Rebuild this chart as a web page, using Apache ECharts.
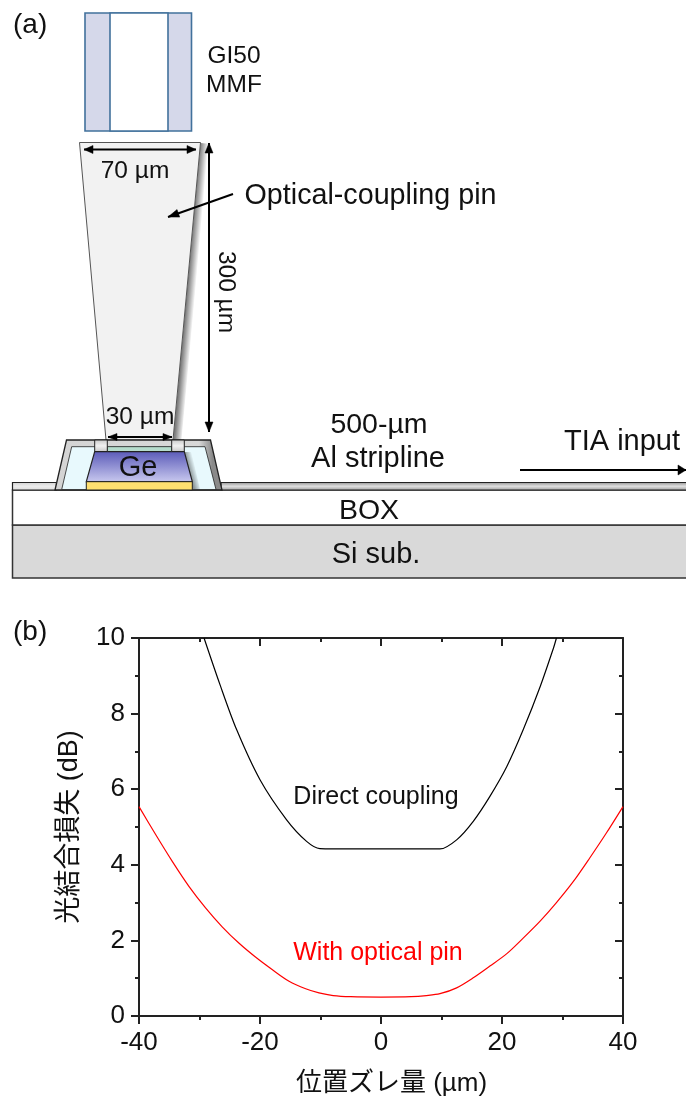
<!DOCTYPE html>
<html>
<head>
<meta charset="utf-8">
<style>html,body{margin:0;padding:0;background:#fff}#c{width:686px;height:1098px}</style>
<script src="https://cdn.jsdelivr.net/npm/echarts@6/dist/echarts.min.js"></script>
</head>
<body>
<div id="c"></div>
<script>
const directX = [-29.25,-26.6,-23.85,-20,-15.6,-12.3,-10.1,-5,0,5,9.75,12.5,15.25,18,20.8,23.5,26.3,28.5,29];
const directY = [10,8.76,7.57,6.25,5.19,4.62,4.43,4.42,4.42,4.42,4.42,4.66,5.15,5.81,6.6,7.57,8.71,9.73,10];
const pinX = [-40,-37.25,-34.5,-31.75,-29,-26.25,-23.5,-20.75,-18,-15.2,-12.45,-10.25,-7.9,-5,0,5,7.5,9.75,12.5,15.25,18,20.8,23.5,26.3,29,31.8,34.5,37.25,40];
const pinY = [5.54,4.8,4.09,3.43,2.86,2.36,1.93,1.56,1.23,0.92,0.72,0.61,0.54,0.51,0.5,0.51,0.54,0.59,0.745,1.01,1.32,1.65,2.06,2.51,3.0,3.56,4.18,4.84,5.54];
const xTicks = {min:-40,max:40,step:20};
const yTicks = {min:0,max:10,step:2};
const xName = '位置ズレ量 (µm)';
const yName = '光結合損失 (dB)';
const zip = (a,b) => a.map((v,i) => [v,b[i]]);

const FONT = '"Liberation Sans", Arial, sans-serif';
const txt = (text,x,y,size,opt={}) => ({type:'text',x,y,rotation:opt.rot||0,z:20,style:{text,x:0,y:0,fill:opt.fill||'#111',
  font:`${size}px ${FONT}`,align:opt.align||'center',verticalAlign:'middle'}});
const poly = (pts,fill,stroke,lw,extra={}) => ({type:'polygon',z:extra.z||5,shape:{points:pts},
  style:Object.assign({fill,stroke,lineWidth:lw},extra.style||{})});
const rect = (x,y,w,h,fill,stroke,lw,extra={}) => ({type:'rect',z:extra.z||5,shape:{x,y,width:w,height:h},
  style:Object.assign({fill,stroke,lineWidth:lw},extra.style||{})});
const seg = (x1,y1,x2,y2,stroke,lw,z=6) => ({type:'line',z,shape:{x1,y1,x2,y2},style:{stroke,lineWidth:lw}});
const head = (x,y,ang,l=10,w=4) => {
  const c=Math.cos(ang),s=Math.sin(ang);
  return poly([[x,y],[x-l*c-w*s,y-l*s+w*c],[x-l*c+w*s,y-l*s-w*c]],'#000','#000',0.5,{z:15});
};
const arrow = (x1,y1,x2,y2,both,l,w) => {
  const a=Math.atan2(y2-y1,x2-x1);
  const out=[seg(x1,y1,x2,y2,'#000',2,15),head(x2,y2,a,l,w)];
  if(both) out.push(head(x1,y1,a+Math.PI,l,w));
  return out;
};
const vgrad = (stops) => ({type:'linear',x:0,y:0,x2:0,y2:1,colorStops:stops.map((c,i)=>({offset:i/(stops.length-1),color:c}))});
const shade = (x,y,x2,y2,a) => ({type:'linear',global:true,x,y,x2,y2,colorStops:[{offset:0,color:`rgba(0,0,0,${a})`},{offset:1,color:'rgba(0,0,0,0)'}]});
const alTop = {type:'linear',x:0,y:0,x2:1,y2:0,colorStops:[{offset:0,color:'#d4d4d4'},{offset:0.86,color:'#d8d8d8'},{offset:0.94,color:'#8a8a8a'},{offset:1,color:'#8a8a8a'}]};

const diagram = [
  // substrate
  rect(12.5,525,690,53,'#d9d9d9','#333',1.5),
  rect(12.5,490,690,35,'#ffffff','#333',1.5),
  // stripline
  rect(12.5,482.5,44,7.5,vgrad(['#cfcfcf','#ececec','#dcdcdc']),'#222',1.2),
  rect(221,482.5,480,7.5,vgrad(['#8c8c8c','#e0e0e0','#9a9a9a']),'#222',1.2),
  // fibre
  rect(85,13,106.5,118,'#d5d8ea','#41719c',1.6),
  rect(110,13,58,118,'#ffffff','#41719c',1.6),
  // pin shadow and body
  poly([[200.5,143],[209,143.8],[181.5,440],[173,440]],shade(200.5,143,208.5,143.7,0.5),'none',0,{z:4}),
  poly([[79.5,142.5],[200.5,142.5],[173,440],[106,440]],'#f2f2f2','#555',1),
  // Al bump
  poly([[55,490],[66.5,440],[210.5,440],[222,490]],alTop,'#222',1.3),
  poly([[61.7,489.5],[71.7,446.7],[205,446.7],[216,489.5]],'#e8f9fd','#222',0.8),
  rect(107.3,446.7,64.4,5,'#b5dccc','#222',0.6),
  poly([[184.3,452],[191.5,452],[200,489],[192.3,489]],shade(184.3,452,191,450.2,0.4),'none',0),
  poly([[94.7,451.7],[184.3,451.7],[192.3,481.7],[86.3,481.7]],vgrad(['#5a5ab8','#c9c9ef']),'#222',1.2),
  rect(86.3,481.7,106,8.3,'#ffdf70','#222',1),
  rect(94.7,440,12.6,11.5,vgrad(['#c8c8c8','#f0f0f0','#c8c8c8']),'#222',1),
  rect(171.7,440,12.6,11.5,vgrad(['#c8c8c8','#f0f0f0','#c8c8c8']),'#222',1),
  // arrows
  ...arrow(84,149.5,196,149.5,true,9,4),
  ...arrow(209,143,209,432,true,10,4),
  ...arrow(233,194,168,217,false,11,4),
  ...arrow(108,437,172,437,true,9,3.5),
  ...arrow(520,470,686,470,false,8,5),
  // labels
  txt('(a)',13,25,28,{align:'left'}),
  txt('(b)',13,632,28,{align:'left'}),
  txt('GI50',234,56,24.5),
  txt('MMF',234,85,24.5),
  txt('70 µm',135,171,24.5),
  txt('Optical-coupling pin',370.5,196,28.7),
  txt('300 µm',226,292,24.5,{rot:-Math.PI/2}),
  txt('30 µm',140,417,24.5),
  txt('Ge',138,468,29),
  txt('500-µm',379,425,28.5),
  txt('Al stripline',378,459,29),
  txt('TIA input',622,442,29),
  txt('BOX',369,511,28.5),
  txt('Si sub.',376,555,29),
  txt('Direct coupling',376,797,25),
  txt('With optical pin',378,953,25,{fill:'#ff0000'})
];

const axLine = {show:true,onZero:false,lineStyle:{color:'#222',width:2}};
const tick = (inside) => ({show:true,inside,length:8,lineStyle:{color:'#222',width:2}});
const minor = (n) => ({show:true,splitNumber:n,length:4,lineStyle:{color:'#222',width:2}});
const base = (t,n,inside) => ({type:'value',min:t.min,max:t.max,interval:t.step,axisLine:axLine,axisTick:tick(inside),minorTick:minor(n),splitLine:{show:false}});
const labelStyle = {color:'#111',fontSize:26,fontFamily:FONT};
const nameFont = '"Liberation Sans","Noto Sans CJK JP",sans-serif';

const chart = echarts.init(document.getElementById('c'),null,{renderer:'canvas'});
chart.setOption({
  animation:false,
  backgroundColor:'#fff',
  grid:{left:139,top:638,width:484,height:378.5,containLabel:false},
  xAxis:[
    Object.assign(base(xTicks,2,false),{position:'bottom',name:xName,nameLocation:'middle',nameGap:55,
      nameTextStyle:{color:'#111',fontSize:26,fontFamily:nameFont,padding:[0,0,0,21]},
      axisLabel:Object.assign({margin:14,hideOverlap:false,showMinLabel:true,showMaxLabel:true},labelStyle)}),
    Object.assign(base(xTicks,2,true),{position:'top',axisLabel:{show:false}})
  ],
  yAxis:[
    Object.assign(base(yTicks,2,false),{position:'left',name:yName,nameLocation:'middle',nameGap:56,
      nameTextStyle:{color:'#111',fontSize:27,fontFamily:nameFont},
      axisLabel:Object.assign({margin:14,showMinLabel:true,showMaxLabel:true},labelStyle)}),
    Object.assign(base(yTicks,2,true),{position:'right',axisLabel:{show:false}})
  ],
  series:[
    {type:'line',name:'Direct coupling',data:zip(directX,directY),showSymbol:false,smooth:0.3,clip:true,
      lineStyle:{color:'#000',width:1.2}},
    {type:'line',name:'With optical pin',data:zip(pinX,pinY),showSymbol:false,smooth:0.3,clip:true,
      lineStyle:{color:'#ff0000',width:1.2}}
  ],
  graphic:{elements:diagram}
});
</script>
</body>
</html>
